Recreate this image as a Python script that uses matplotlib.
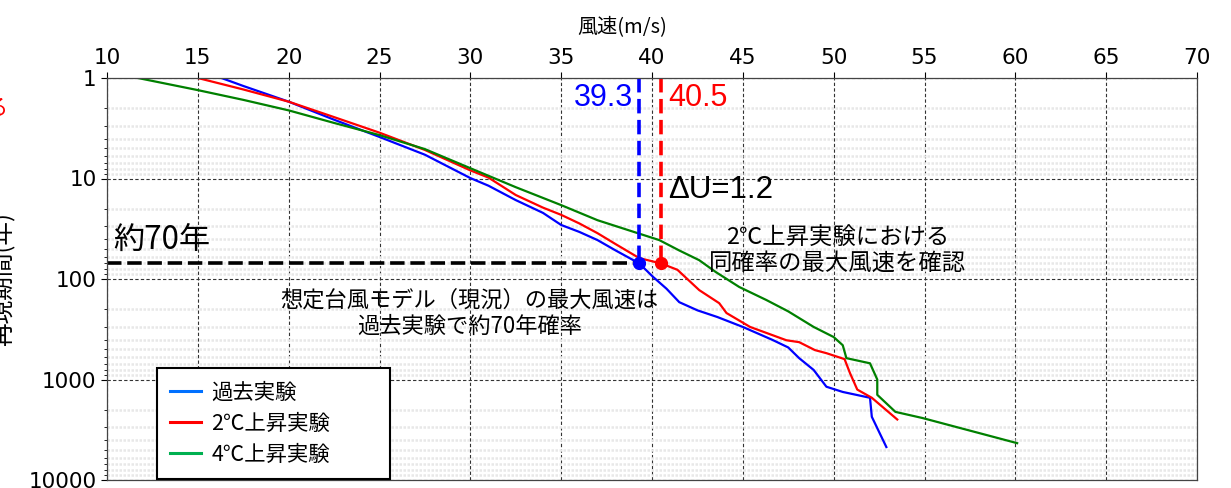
import matplotlib
matplotlib.use("Agg")
import matplotlib.pyplot as plt
from matplotlib.lines import Line2D
from matplotlib.ticker import NullFormatter, LogLocator

# 再現期間と風速 (読み取り値)
past_speed = [16.3, 17.5, 20.0, 22.5, 25.0, 27.5, 30.0, 31.0, 32.5, 34.0, 35.0,
              36.0, 37.0, 38.0, 39.3, 40.05, 40.8, 41.5, 42.5, 43.6, 45.0, 46.65,
              47.5, 48.1, 48.9, 49.6, 50.5, 52.0, 52.1, 52.9]
past_period = [1, 1.2, 1.72, 2.6, 3.86, 5.8, 9.9, 11.8, 16.4, 22, 29,
               34, 41, 52, 70, 95, 125, 170, 205, 239, 300, 405,
               480, 613, 804, 1180, 1330, 1520, 2350, 4700]

plus2_speed = [15.0, 17.5, 20.0, 22.5, 25.0, 27.5, 30.0, 31.0, 32.5, 34.0, 35.0,
               36.0, 37.0, 38.0, 39.3, 40.5, 41.4, 42.6, 43.7, 44.1, 45.4, 47.4,
               48.1, 48.97, 49.6, 50.6, 50.9, 51.3, 52.1, 53.5]
plus2_period = [1, 1.3, 1.72, 2.45, 3.5, 5.2, 8.3, 9.8, 14.6, 19.5, 23,
                28, 35, 45, 62, 70, 81, 129, 174, 218, 300, 407,
                425, 510, 547, 627, 865, 1260, 1520, 2500]

plus4_speed = [11.7, 15.0, 17.5, 20.0, 22.5, 25.0, 27.5, 30.0, 32.5, 35.0, 37.0,
               39.0, 40.4, 41.5, 42.6, 43.5, 44.8, 46.3, 47.5, 48.9, 50.0, 50.5,
               50.7, 52.0, 52.4, 52.4, 53.4, 54.9, 60.1]
plus4_period = [1, 1.32, 1.65, 2.1, 2.8, 3.7, 5.1, 7.9, 12.2, 18.4, 26,
                34, 41, 52, 65, 85, 120, 162, 210, 300, 378, 456,
                613, 690, 1000, 1420, 2100, 2420, 4300]

labels = ["過去実験", "2℃上昇実験", "4℃上昇実験"]
x_ticks = [10, 15, 20, 25, 30, 35, 40, 45, 50, 55, 60, 65, 70]
y_ticks = [1, 10, 100, 1000, 10000]

past_max = 39.3
plus2_max = 40.5
target_period = 70
delta_u = round(plus2_max - past_max, 1)

jp = ["Noto Sans CJK JP", "DejaVu Sans"]
num = ["Liberation Sans", "DejaVu Sans"]

fig = plt.figure(figsize=(12.31, 4.88), dpi=100)
ax = fig.add_axes([107 / 1231, 8 / 488, 1090 / 1231, 402 / 488])

ax.plot(past_speed, past_period, color="blue", lw=1.6)
ax.plot(plus2_speed, plus2_period, color="red", lw=1.6)
ax.plot(plus4_speed, plus4_period, color="green", lw=1.6)

ax.set_yscale("log")
ax.set_xlim(10, 70)
ax.set_ylim(10000, 1)
ax.xaxis.tick_top()
ax.xaxis.set_label_position("top")
ax.set_xticks(x_ticks)
ax.set_yticks(y_ticks)
ax.set_yticklabels([str(v) for v in y_ticks])
ax.yaxis.set_minor_locator(LogLocator(base=10, subs=range(2, 10)))
ax.yaxis.set_minor_formatter(NullFormatter())
ax.tick_params(axis="both", which="major", labelsize=15.5, length=4, width=0.8)
ax.tick_params(axis="y", which="minor", length=2.5, width=0.6)

ax.grid(which="major", color="#333333", linestyle=(0, (3, 2)), lw=0.8)
ax.grid(which="minor", axis="y", color="#e8e8e8", linestyle=(0, (1, 0.6)), lw=1.8)
ax.set_axisbelow(True)
for s in ax.spines.values():
    s.set_color("#444444")
    s.set_linewidth(0.9)

ax.set_xlabel("風速(m/s)", family=jp, fontsize=14.5)
ax.xaxis.set_label_coords(0.473, 1.112)
ax.set_ylabel("再現期間(年)", family=jp, fontsize=17)
ax.yaxis.set_label_coords(-0.084, 0.5)

# 最大風速の確認線
ax.plot([10, past_max], [target_period, target_period], color="black", lw=2.6,
        dashes=(4, 1.6))
ax.plot([past_max, past_max], [1, target_period], color="blue", lw=2.6,
        dashes=(4, 1.8))
ax.plot([plus2_max, plus2_max], [1, target_period], color="red", lw=2.6,
        dashes=(4, 1.8))
ax.plot(past_max, target_period, "o", color="blue", ms=8.5)
ax.plot(plus2_max, target_period, "o", color="red", ms=8.5)

ax.text(past_max - 0.35, 1.58, f"{past_max}", color="blue", fontsize=22,
        family=num, ha="right", va="center")
ax.text(plus2_max + 0.4, 1.58, f"{plus2_max}", color="red", fontsize=22,
        family=num, ha="left", va="center")
ax.text(plus2_max + 0.4, 13.0, f"ΔU={delta_u}", color="black", fontsize=22.5,
        family=num, ha="left", va="center")
ax.text(10.33, 41, f"約{target_period}年", fontsize=22.5, family=jp,
        ha="left", va="center")
ax.text(29.95, 218, "想定台風モデル（現況）の最大風速は\n過去実験で約70年確率",
        fontsize=16, family=jp, ha="center", va="center", linespacing=1.2)
ax.text(50.23, 52.7, "2℃上昇実験における\n同確率の最大風速を確認",
        fontsize=16.8, family=jp, ha="center", va="center", linespacing=1.1)

fig.text(8 / 1231, 1 - 108 / 488, "る", color="red", fontsize=16, family=jp,
         ha="right", va="center")

handles = [Line2D([], [], color=c, lw=2.2) for c in ["#0070ff", "#ff0000", "#00b050"]]
leg = ax.legend(handles, labels, loc="lower left", mode="expand",
                bbox_to_anchor=(157 / 1231, 9 / 488, 233 / 1231, 113 / 488),
                bbox_transform=fig.transFigure,
                borderaxespad=0, fancybox=False, framealpha=1, edgecolor="black",
                prop={"family": jp, "size": 15.4}, handlelength=1.45,
                handletextpad=0.47, labelspacing=0.43, borderpad=0.62)
leg.get_frame().set_linewidth(1.5)

fig.savefig("out.png", dpi=100)
